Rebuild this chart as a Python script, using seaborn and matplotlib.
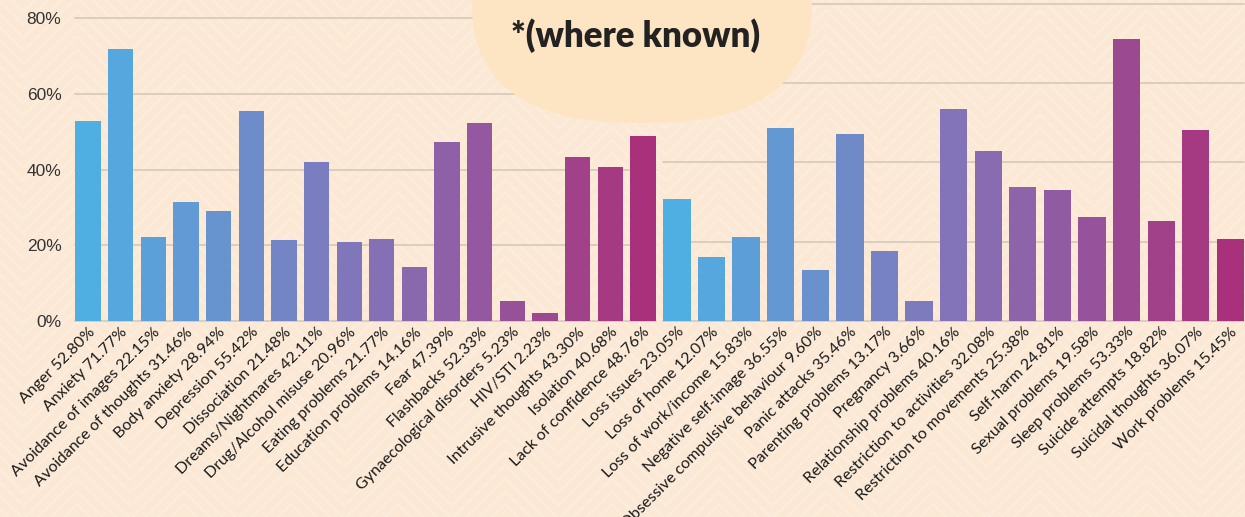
import numpy as np
import pandas as pd
import seaborn as sns
import matplotlib.pyplot as plt
from matplotlib.patches import Polygon
from matplotlib.lines import Line2D

# ---------------- data ----------------
left_labels = ["Anger", "Anxiety", "Avoidance of images", "Avoidance of thoughts",
               "Body anxiety", "Depression", "Dissociation", "Dreams/Nightmares",
               "Drug/Alcohol misuse", "Eating problems", "Education problems", "Fear",
               "Flashbacks", "Gynaecological disorders", "HIV/STI", "Intrusive thoughts",
               "Isolation", "Lack of confidence"]
left_values = [52.80, 71.77, 22.15, 31.46, 28.94, 55.42, 21.48, 42.11, 20.96, 21.77,
               14.16, 47.39, 52.33, 5.23, 2.23, 43.30, 40.68, 48.76]

right_labels = ["Loss issues", "Loss of home", "Loss of work/income", "Negative self-image",
                "Obsessive compulsive behaviour", "Panic attacks", "Parenting problems",
                "Pregnancy", "Relationship problems", "Restriction to activities",
                "Restriction to movements", "Self-harm", "Sexual problems", "Sleep problems",
                "Suicide attempts", "Suicidal thoughts", "Work problems"]
right_values = [23.05, 12.07, 15.83, 36.55, 9.60, 35.46, 13.17, 3.66, 40.16, 32.08,
                25.38, 24.81, 19.58, 53.33, 18.82, 36.07, 15.45]

left_yticks = [0, 20, 40, 60, 80]
right_yticks = [0, 15, 30, 45, 60]
note_text = "*(where known)"

# ---------------- style ----------------
BG = "#FBE9D6"
GRID = "#D9CCBC"
BUBBLE = "#FDE5C3"
grad = ["#4FAEE2", "#8374B9", "#A9317B"]

sns.set_theme(style="white")
plt.rcParams['font.family'] = ['Lato', 'DejaVu Sans']

W, H = 1245, 517
fig = plt.figure(figsize=(W / 100, H / 100), dpi=100, facecolor=BG)


def rect(x0, y0, x1, y1):
    return [x0 / W, 1 - y1 / H, (x1 - x0) / W, (y1 - y0) / H]


# background chevron pattern
period = 107.0
xs = np.arange(-2 * period, W + 2 * period, period / 2) + 933 % period
for base in np.arange(-80, H + 80, 13):
    ys = base + np.where(np.arange(len(xs)) % 2 == 0, -period / 4, period / 4)
    fig.add_artist(Line2D(xs / W, 1 - ys / H, color="white", alpha=0.3, lw=1.0,
                          zorder=-1, transform=fig.transFigure))

axL = fig.add_axes(rect(75.3, 18, 655.7, 321))
axR = fig.add_axes(rect(663.3, 4, 1244, 320.7))


def panel(ax, labels, values, yticks, width, show_ylabels):
    df = pd.DataFrame({"label": labels, "value": values})
    pal = sns.blend_palette(grad, len(labels))
    sns.barplot(data=df, x="label", y="value", hue="label", palette=pal, legend=False,
                ax=ax, width=width, saturation=1, edgecolor="none", zorder=2)
    ax.set_facecolor("none")
    n = len(labels)
    ax.set_xlim(-width / 2, n - 1 + width / 2)
    ax.set_ylim(yticks[0], yticks[-1])
    for t in yticks:
        ax.axhline(t, color=GRID, lw=1.3, zorder=0.5, clip_on=False)
    ax.set_yticks(yticks)
    if show_ylabels:
        ax.set_yticklabels([f"{t}%" for t in yticks], family=["Liberation Sans"],
                           fontsize=12.5, color="#333333")
    else:
        ax.set_yticklabels([])
    ax.set_xticks(range(n))
    ax.set_xticklabels([f"{l} {v:.2f}%" for l, v in zip(labels, values)],
                       rotation=45, ha="right", va="top", rotation_mode="anchor",
                       fontsize=11.5, color="#1a1a1a")
    ax.tick_params(axis="x", length=0, pad=3)
    ax.tick_params(axis="y", length=0, pad=10)
    ax.set_xlabel("")
    ax.set_ylabel("")
    for s in ax.spines.values():
        s.set_visible(False)


panel(axL, left_labels, left_values, left_yticks, 0.7745, True)
panel(axR, right_labels, right_values, right_yticks, 0.79, False)

# bubble with note
t = np.linspace(0, np.pi, 200)
nexp = 2.5
a, b, cx = 170.0, 123.0, 642.0
bx = cx + a * np.sign(np.cos(t)) * np.abs(np.cos(t)) ** (2 / nexp)
by = b * np.abs(np.sin(t)) ** (2 / nexp)
bx = np.concatenate([[cx + a], bx, [cx - a]])
by = np.concatenate([[-10], by, [-10]])
fig.add_artist(Polygon(np.column_stack([bx / W, 1 - by / H]), closed=True,
                       facecolor=BUBBLE, edgecolor="none", zorder=1,
                       transform=fig.transFigure))
fig.text(636 / W, 1 - 36 / H, note_text, ha="center", va="center", fontsize=25,
         fontweight="heavy", color="#222222", zorder=2)

fig.savefig("out.png", dpi=100, facecolor=BG)
